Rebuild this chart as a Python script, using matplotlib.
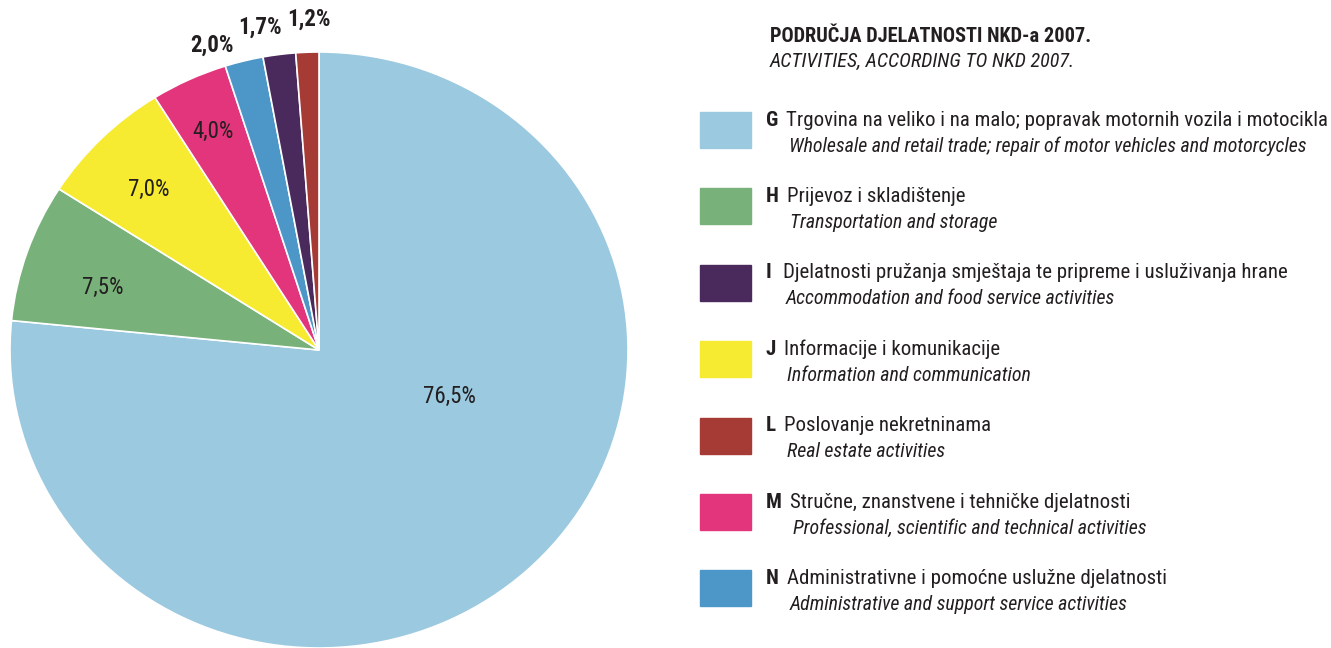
import numpy as np
import matplotlib
matplotlib.use("Agg")
import matplotlib.pyplot as plt

# slices, clockwise from the top
codes = ["G", "H", "J", "M", "N", "I", "L"]
shares = [76.5, 7.5, 7.0, 4.0, 2.0, 1.7, 1.2]
slice_colors = ["#9bc9df", "#78b27a", "#f6eb30", "#e2357b", "#4c97c8", "#4a2a5c", "#a63a34"]

# legend entries, in legend order
legend_codes = ["G", "H", "I", "J", "L", "M", "N"]
legend_hr = [
    "Trgovina na veliko i na malo; popravak motornih vozila i motocikla",
    "Prijevoz i skladištenje",
    "Djelatnosti pružanja smještaja te pripreme i usluživanja hrane",
    "Informacije i komunikacije",
    "Poslovanje nekretninama",
    "Stručne, znanstvene i tehničke djelatnosti",
    "Administrativne i pomoćne uslužne djelatnosti",
]
legend_en = [
    "Wholesale and retail trade; repair of motor vehicles and motorcycles",
    "Transportation and storage",
    "Accommodation and food service activities",
    "Information and communication",
    "Real estate activities",
    "Professional, scientific and technical activities",
    "Administrative and support service activities",
]

FONT = ["Roboto Condensed", "Liberation Sans Narrow", "Liberation Sans", "DejaVu Sans"]
plt.rcParams["font.family"] = FONT
TXT = "#231f20"

W, H = 1331, 648
fig = plt.figure(figsize=(W / 100, H / 100), dpi=100)
renderer = fig.canvas.get_renderer()

# pie axes: centre at (319, 350) px, slightly wider than tall as in the source
cx, cy, rx, ry = 319, 350, 309, 298
ax = fig.add_axes([(cx - rx) / W, (H - cy - ry) / H, 2 * rx / W, 2 * ry / H])
wedges, _ = ax.pie(shares, colors=slice_colors, startangle=90, counterclock=False,
                   wedgeprops=dict(edgecolor="white", linewidth=1.2))
ax.set_xlim(-1, 1)
ax.set_ylim(-1, 1)
ax.set_aspect("auto")
ax.axis("off")

# label placement per slice: radius (fraction of pie radius) and angular shift
label_r = [0.45, 0.73, 0.77, 0.81, 1.08, 1.10, 1.11]
label_shift = [27.7, 2.4, 1.0, 0.3, 4.6, 2.6, -0.5]
outside = [False, False, False, False, True, True, True]
for w, share, lr, sh, out in zip(wedges, shares, label_r, label_shift, outside):
    ang = np.deg2rad((w.theta1 + w.theta2) / 2 + sh)
    txt = f"{share:.1f}%".replace(".", ",")
    ax.text(lr * np.cos(ang), lr * np.sin(ang), txt, ha="center", va="center",
            fontsize=16.5, color=TXT, fontweight="bold" if out else "normal",
            clip_on=False)

# legend
fig.text(770 / W, 1 - 37 / H, "PODRUČJA DJELATNOSTI NKD-a 2007.", fontsize=14.7,
         fontweight="bold", color=TXT, va="center", ha="left")
fig.text(770 / W, 1 - 61 / H, "ACTIVITIES, ACCORDING TO NKD 2007.", fontsize=14.5,
         style="italic", color=TXT, va="center", ha="left")

color_of = dict(zip(codes, slice_colors))
y0, step = 130, 76.4
for i, (code, hr, en) in enumerate(zip(legend_codes, legend_hr, legend_en)):
    yc = y0 + i * step
    fig.patches.append(plt.Rectangle((700 / W, 1 - (yc + 18) / H), 51 / W, 36 / H,
                                     transform=fig.transFigure, color=color_of[code]))
    t = fig.text(766 / W, 1 - (yc - 10) / H, code, fontsize=15, fontweight="bold",
                 color=TXT, va="center", ha="left")
    x_name = max(t.get_window_extent(renderer).x1 + 8, 783)
    fig.text(x_name / W, 1 - (yc - 10) / H, hr, fontsize=15, color=TXT,
             va="center", ha="left")
    fig.text((x_name + 3) / W, 1 - (yc + 16) / H, en, fontsize=14.3, style="italic",
             color=TXT, va="center", ha="left")

fig.savefig("out.png", dpi=100)
